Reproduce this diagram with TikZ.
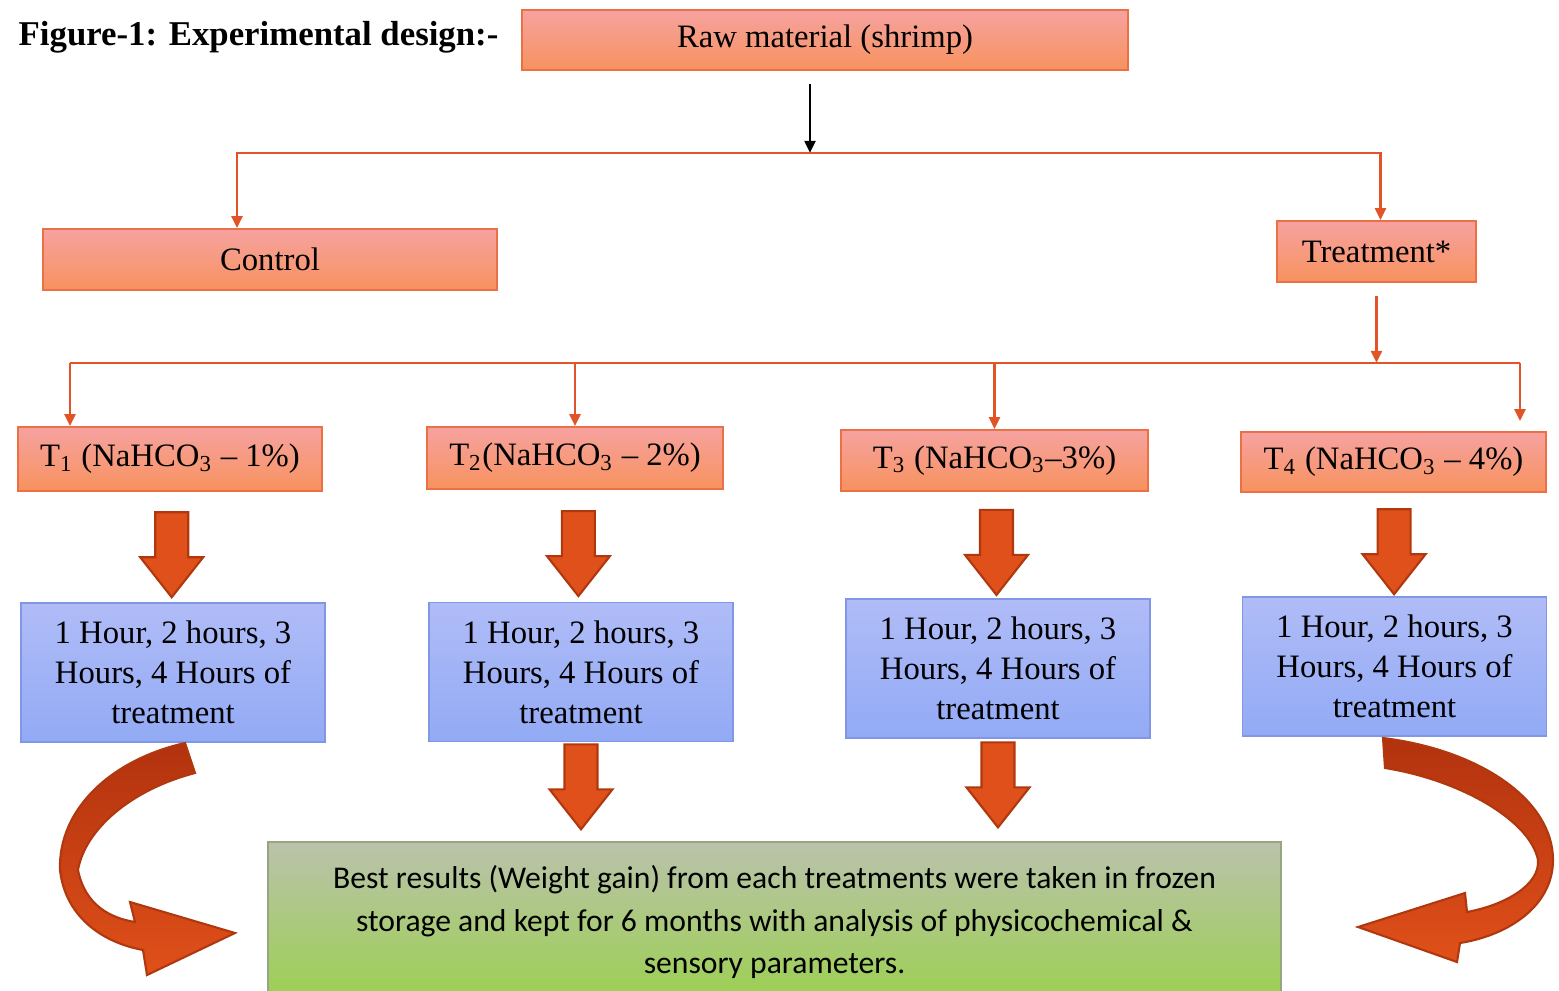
\documentclass[tikz,border=0pt]{standalone}
\usepackage{fontspec}
\setmainfont{Liberation Serif}
\newfontfamily\calibrifont{Carlito}
\usetikzlibrary{arrows.meta, calc, positioning}

\definecolor{linkred}{RGB}{226,84,40}
\definecolor{pinktop}{RGB}{246,162,160}
\definecolor{pinkbot}{RGB}{247,146,94}
\definecolor{pinkline}{RGB}{236,112,70}
\definecolor{bluetop}{RGB}{176,188,247}
\definecolor{bluebot}{RGB}{146,170,245}
\definecolor{blueline}{RGB}{130,150,230}
\definecolor{greentop}{RGB}{186,194,172}
\definecolor{greenbot}{RGB}{156,208,80}
\definecolor{greenline}{RGB}{150,165,130}
\definecolor{arrowfill}{RGB}{224,80,26}
\definecolor{arrowline}{RGB}{176,56,14}
\definecolor{curvetop}{RGB}{178,50,14}

\tikzstyle{salmon} = [
    rectangle,
    top color = pinktop,
    bottom color = pinkbot,
    draw = pinkline,
    line width = 0.5pt,
    text centered,
    inner sep = 0pt,
    font = \fontsize{9.3}{11}\selectfont,
]
\tikzstyle{lavender} = [
    rectangle,
    top color = bluetop,
    bottom color = bluebot,
    draw = blueline,
    line width = 0.5pt,
    align = center,
    inner sep = 0pt,
    minimum width = 3.04cm,
    minimum height = 1.39cm,
    font = \fontsize{9.3}{11.4}\selectfont,
]
\tikzstyle{meadow} = [
    rectangle,
    top color = greentop,
    bottom color = greenbot,
    draw = greenline,
    line width = 0.5pt,
    align = center,
    inner sep = 0pt,
    font = \calibrifont\fontsize{9}{12.2}\selectfont,
]
\tikzstyle{link} = [draw = linkred, line width = 0.7pt]
\tikzstyle{blockarrow} = [fill = arrowfill, draw = arrowline, line width = 0.6pt]
\tikzstyle{ribbon} = [top color = curvetop, bottom color = arrowfill, draw = arrowline, line width = 0.6pt]

\newcommand{\blockdown}[1]{\draw[blockarrow] ($(#1)+(-0.165,0.425)$) -- ++(0.33,0) -- ++(0,-0.45) -- ++(0.15,0) -- ++(-0.315,-0.40) -- ++(-0.315,0.40) -- ++(0.15,0) -- cycle;}

\begin{document}
\begin{tikzpicture} [node distance = 1.5cm, >={Triangle[length=0.12cm, width=0.11cm]}]
    \useasboundingbox (0,0) rectangle (15.59,-9.90);

    \node (Title) [anchor = west, inner sep = 0pt, font = \bfseries\fontsize{9.9}{12}\selectfont] at (0.18,-0.37) {Figure-1: Experimental design:-};
    \node (Raw) [salmon, minimum width = 6.06cm, minimum height = 0.60cm] at (8.25,-0.40) {Raw material (shrimp)};

    \node (Control) [salmon, minimum width = 4.54cm, minimum height = 0.61cm, node distance = 2.195cm, below of = Raw, xshift = -5.55cm] {Control};
    \node (Treatment) [salmon, minimum width = 1.99cm, minimum height = 0.61cm, node distance = 11.065cm, right of = Control, yshift = 0.08cm] {Treatment*};

    \node (T1) [salmon, minimum width = 3.04cm, minimum height = 0.64cm, node distance = 1.995cm, below of = Control, xshift = -1.0cm] {T\textsubscript{1} (NaHCO\textsubscript{3} – 1\%)};
    \node (T2) [salmon, minimum width = 2.96cm, minimum height = 0.62cm, node distance = 4.05cm, right of = T1, yshift = 0.01cm] {T\textsubscript{2}(NaHCO\textsubscript{3} – 2\%)};
    \node (T3) [salmon, minimum width = 3.07cm, minimum height = 0.61cm, node distance = 4.195cm, right of = T2, yshift = -0.025cm] {T\textsubscript{3} (NaHCO\textsubscript{3}–3\%)};
    \node (T4) [salmon, minimum width = 3.05cm, minimum height = 0.60cm, node distance = 3.99cm, right of = T3, yshift = -0.015cm] {T\textsubscript{4} (NaHCO\textsubscript{3} – 4\%)};

    \node (B1) [lavender, node distance = 2.135cm, below of = T1, xshift = 0.03cm] {1 Hour, 2 hours, 3\\Hours, 4 Hours of\\treatment};
    \node (B2) [lavender, node distance = 2.14cm, below of = T2, xshift = 0.06cm] {1 Hour, 2 hours, 3\\Hours, 4 Hours of\\treatment};
    \node (B3) [lavender, node distance = 2.08cm, below of = T3, xshift = 0.035cm] {1 Hour, 2 hours, 3\\Hours, 4 Hours of\\treatment};
    \node (B4) [lavender, node distance = 2.045cm, below of = T4, xshift = 0.01cm] {1 Hour, 2 hours, 3\\Hours, 4 Hours of\\treatment};

    \node (Result) [meadow, minimum width = 10.13cm, minimum height = 1.60cm] at (7.745,-9.22) {Best results (Weight gain) from each treatments were taken in frozen\\storage and kept for 6 months with analysis of physicochemical \&\\sensory parameters.};

    \coordinate (hub) at ($(Raw.south)+(-0.15,-0.82)$);
    \draw[->, line width = 0.6pt] ([xshift = -0.15cm, yshift = -0.13cm]Raw.south) -- (hub);
    \draw[link, <->] ([xshift = -0.33cm]Control.north) |- (hub) -| ([xshift = 0.04cm]Treatment.north);

    \coordinate (bar) at ($(Treatment.south)+(0,-0.80)$);
    \draw[link, ->] ([yshift = -0.13cm]Treatment.south) -- (bar);
    \foreach \t/\dx/\dy in {T1/-1.0/0, T2/0/0, T3/0/0, T4/1.265/0.1} {
        \coordinate (\t-in) at ($(\t.north)+(\dx,\dy)$);
        \draw[link, ->] (\t-in |- bar) -- (\t-in);
    }
    \draw[link] (T1-in |- bar) -- (T4-in |- bar);

    \foreach \i in {1,...,4} {
        \coordinate (m\i) at ($(T\i.south)!0.57!(B\i.north)$);
        \blockdown{m\i}
    }
    \foreach \i in {2,3} {
        \coordinate (r\i) at ($(B\i.south)!0.45!(B\i.south |- Result.north)$);
        \blockdown{r\i}
    }

    \draw[ribbon] (1.85,-7.43) -- (1.95,-7.73)
        .. controls (1.30,-7.90) and (0.85,-8.30) .. (0.78,-8.70)
        .. controls (0.85,-9.05) and (1.10,-9.18) .. (1.35,-9.22)
        -- (1.30,-9.02) -- (2.35,-9.33) -- (1.47,-9.75) -- (1.43,-9.50)
        .. controls (1.00,-9.42) and (0.65,-9.15) .. (0.60,-8.70)
        .. controls (0.58,-8.10) and (1.10,-7.60) .. (1.85,-7.43) -- cycle;
    \draw[ribbon] (13.83,-7.38) -- (13.85,-7.68)
        .. controls (14.60,-7.80) and (15.30,-8.20) .. (15.38,-8.60)
        .. controls (15.40,-8.85) and (15.05,-9.05) .. (14.67,-9.12)
        -- (14.65,-8.93) -- (13.58,-9.27) -- (14.57,-9.62) -- (14.60,-9.43)
        .. controls (15.10,-9.35) and (15.53,-9.05) .. (15.53,-8.60)
        .. controls (15.53,-8.00) and (14.80,-7.50) .. (13.83,-7.38) -- cycle;
\end{tikzpicture}
\end{document}
